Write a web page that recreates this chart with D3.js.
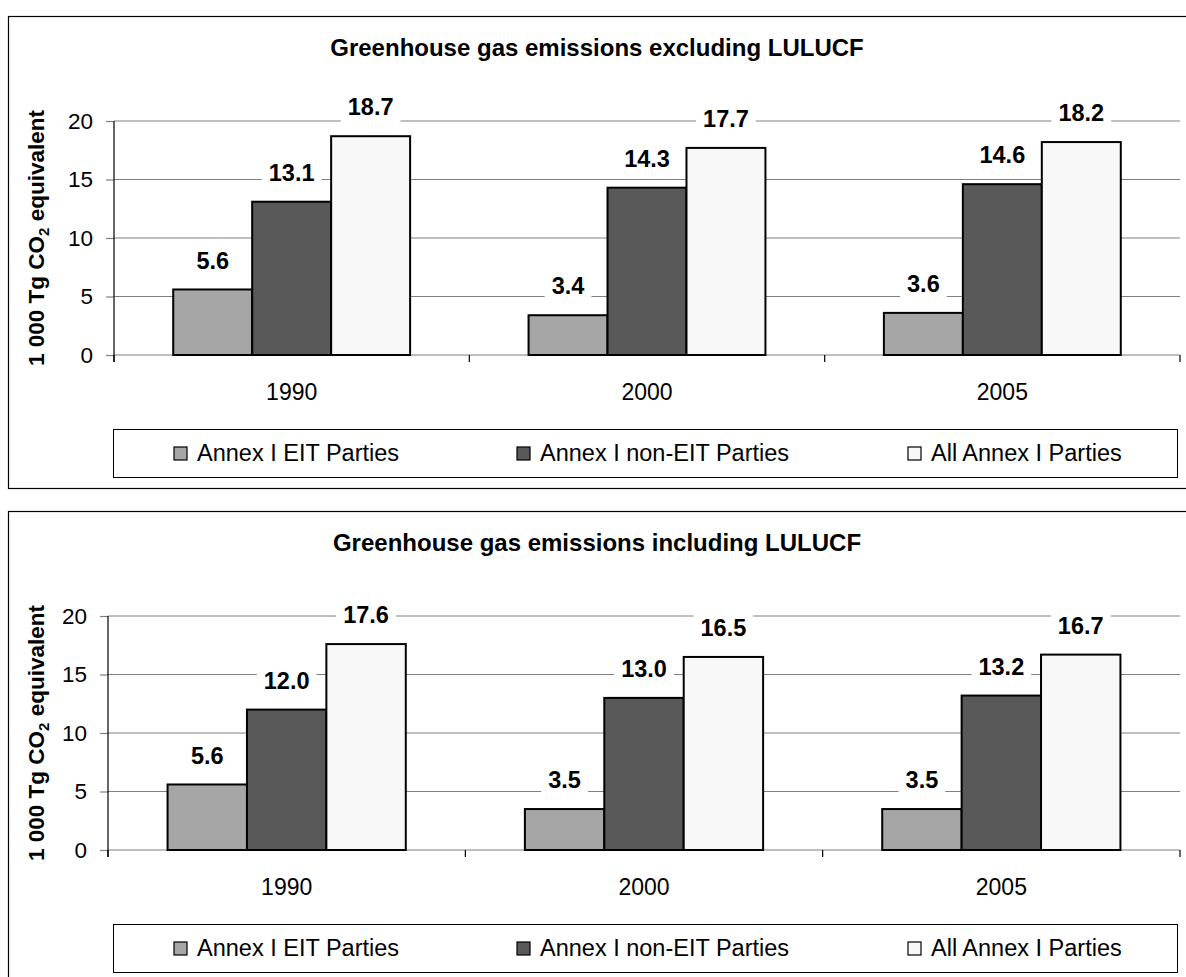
<!DOCTYPE html>
<html>
<head>
<meta charset="utf-8">
<script src="https://cdn.jsdelivr.net/npm/d3@7"></script>
<style>
  body { margin: 0; background: #fff; }
  svg { display: block; font-family: "Liberation Sans", Arial, sans-serif; }
</style>
</head>
<body>
<div id="chart"></div>
<script>
// Data
const years = ["1990", "2000", "2005"];
const seriesNames = ["Annex I EIT Parties", "Annex I non-EIT Parties", "All Annex I Parties"];
const seriesColors = ["#a6a6a6", "#595959", "#f8f8f8"];
const yTicks = [0, 5, 10, 15, 20];

// excluding LULUCF
const exclEIT = [5.6, 3.4, 3.6];
const exclNonEIT = [13.1, 14.3, 14.6];
const exclAll = [18.7, 17.7, 18.2];

// including LULUCF
const inclEIT = [5.6, 3.5, 3.5];
const inclNonEIT = [12.0, 13.0, 13.2];
const inclAll = [17.6, 16.5, 16.7];

const width = 1186, height = 977;

const svg = d3.select("#chart")
  .append("svg")
  .attr("width", width)
  .attr("height", height);

// Draw one chart panel
function drawPanel(opts) {
  const g = svg.append("g").attr("transform", `translate(0,${opts.top})`);
  const plotTop = 105, plotBottom = 339;

  // Outer frame
  g.append("rect")
    .attr("x", 8.5).attr("y", 0.5)
    .attr("width", 1190).attr("height", 472)
    .attr("fill", "none").attr("stroke", "#000").attr("stroke-width", 1.2);

  // Title
  g.append("text")
    .attr("x", 597).attr("y", 40)
    .attr("text-anchor", "middle")
    .attr("font-weight", "bold")
    .attr("font-size", 24)
    .text(opts.title);

  const x0 = d3.scaleBand().domain(years).range([opts.left, 1180]).padding(0);
  const x1 = d3.scaleBand().domain(seriesNames).range([0, x0.bandwidth()])
    .paddingInner(0).paddingOuter(0.75);
  const y = d3.scaleLinear().domain([0, 20]).range([plotBottom, plotTop]);

  // Gridlines
  g.append("g")
    .selectAll("line")
    .data(yTicks)
    .join("line")
    .attr("x1", opts.left).attr("x2", 1180)
    .attr("y1", d => y(d)).attr("y2", d => y(d))
    .attr("stroke", "#808080").attr("stroke-width", 1.2);

  // Y axis
  const yAxis = g.append("g")
    .attr("transform", `translate(${opts.left},0)`)
    .call(d3.axisLeft(y).tickValues(yTicks).tickSize(8).tickPadding(13).tickSizeOuter(0));
  yAxis.select(".domain").remove();
  yAxis.selectAll(".tick line").attr("stroke", "#808080").attr("stroke-width", 1.2);
  yAxis.selectAll(".tick text")
    .attr("font-size", 22.5).attr("font-family", "Liberation Sans, Arial, sans-serif")
    .attr("fill", "#000");
  g.append("line")
    .attr("x1", opts.left).attr("x2", opts.left)
    .attr("y1", plotTop).attr("y2", plotBottom + 7)
    .attr("stroke", "#000").attr("stroke-width", 1.2);

  // X axis with category ticks at band edges
  const xAxis = g.append("g")
    .attr("transform", `translate(0,${plotBottom})`)
    .call(d3.axisBottom(x0).tickSize(0).tickPadding(37));
  xAxis.select(".domain").remove();
  xAxis.selectAll(".tick text")
    .attr("dy", "0.35em")
    .attr("font-size", 23).attr("font-family", "Liberation Sans, Arial, sans-serif")
    .attr("fill", "#000");
  const edges = years.map(d => x0(d)).concat([x0(years[years.length - 1]) + x0.bandwidth()]);
  g.append("g")
    .selectAll("line")
    .data(edges)
    .join("line")
    .attr("x1", d => d).attr("x2", d => d)
    .attr("y1", plotBottom).attr("y2", plotBottom + 7)
    .attr("stroke", "#000").attr("stroke-width", 1.2);

  // Bars
  const rows = years.map((yr, i) => ({
    year: yr,
    values: seriesNames.map((s, k) => ({ series: s, value: opts.series[k][i], color: seriesColors[k] }))
  }));

  const groups = g.append("g")
    .selectAll("g")
    .data(rows)
    .join("g")
    .attr("transform", d => `translate(${x0(d.year)},0)`);

  groups.selectAll("rect")
    .data(d => d.values)
    .join("rect")
    .attr("x", d => x1(d.series))
    .attr("y", d => y(d.value))
    .attr("width", x1.bandwidth())
    .attr("height", d => y(0) - y(d.value))
    .attr("fill", d => d.color)
    .attr("stroke", "#000")
    .attr("stroke-width", 2);

  // Value labels with white backing
  const labels = groups.selectAll("g.lbl")
    .data(d => d.values)
    .join("g")
    .attr("class", "lbl")
    .attr("transform", d => `translate(${x1(d.series) + x1.bandwidth() / 2},${y(d.value) - 29})`);

  labels.append("text")
    .attr("text-anchor", "middle")
    .attr("dy", "0.35em")
    .attr("font-weight", "bold")
    .attr("font-size", 23.5)
    .text(d => d.value.toFixed(1));

  labels.each(function() {
    const grp = d3.select(this);
    const bb = grp.select("text").node().getBBox();
    grp.insert("rect", "text")
      .attr("x", bb.x - 7).attr("y", bb.y - 2)
      .attr("width", bb.width + 14).attr("height", bb.height + 4)
      .attr("fill", "#fff");
  });

  // Y axis title
  const yt = g.append("text")
    .attr("transform", `translate(44,${(plotTop + plotBottom) / 2}) rotate(-90)`)
    .attr("text-anchor", "middle")
    .attr("font-weight", "bold")
    .attr("font-size", 22.5);
  yt.append("tspan").text("1 000 Tg CO");
  yt.append("tspan").attr("font-size", 15).attr("dy", 5).text("2");
  yt.append("tspan").attr("dy", -5).text(" equivalent");

  // Legend, centred under the plot
  const lg = g.append("g").attr("transform", "translate(113,413)");
  lg.append("rect")
    .attr("x", 0.5).attr("y", 0.5)
    .attr("width", 1064).attr("height", 48)
    .attr("fill", "#fff").attr("stroke", "#000").attr("stroke-width", 1);
  const legendX = [61, 404, 795];
  const items = lg.selectAll("g.item")
    .data(seriesNames)
    .join("g")
    .attr("class", "item")
    .attr("transform", (d, i) => `translate(${legendX[i]},24)`);
  items.append("rect")
    .attr("x", 0).attr("y", -6)
    .attr("width", 13).attr("height", 13)
    .attr("fill", (d, i) => seriesColors[i])
    .attr("stroke", "#000").attr("stroke-width", 1.2);
  items.append("text")
    .attr("x", 23).attr("dy", "0.35em")
    .attr("font-size", 23.5)
    .text(d => d);
}

drawPanel({
  top: 16,
  left: 114,
  title: "Greenhouse gas emissions excluding LULUCF",
  series: [exclEIT, exclNonEIT, exclAll]
});

drawPanel({
  top: 511,
  left: 108,
  title: "Greenhouse gas emissions including LULUCF",
  series: [inclEIT, inclNonEIT, inclAll]
});
</script>
</body>
</html>
